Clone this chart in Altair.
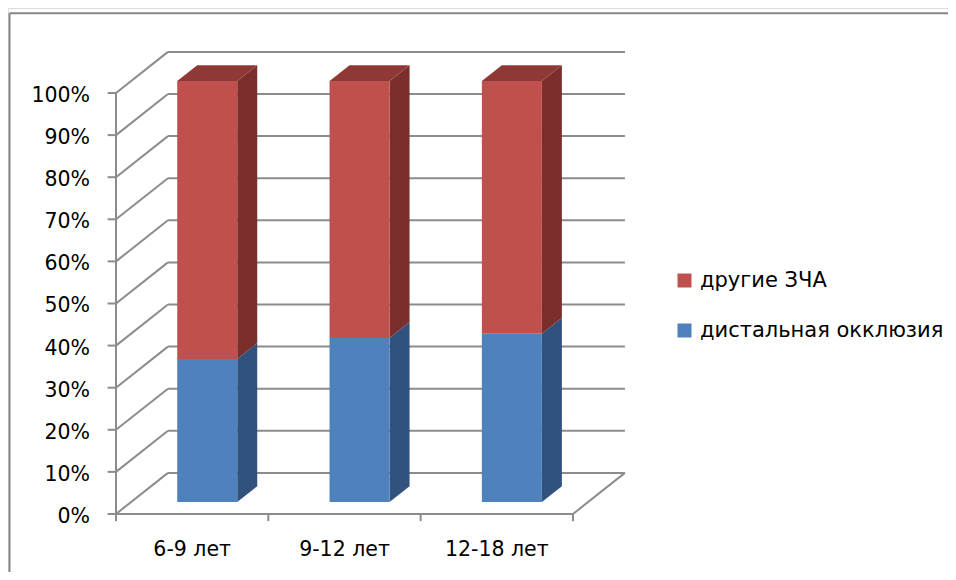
import altair as alt
import pandas as pd

# ---- data ----
categories = ["6-9 лет", "9-12 лет", "12-18 лет"]
distal = [34, 39, 40]          # дистальная окклюзия, %
other = [66, 61, 60]           # другие ЗЧА, %
tick_values = list(range(0, 101, 10))
tick_labels = [f"{v}%" for v in tick_values]
series_names = ["другие ЗЧА", "дистальная окклюзия"]

# ---- 3D projection settings (styles, in axis units) ----
DX = 0.341      # horizontal shift of the back wall (category units)
DY = 9.76       # vertical shift of the back wall (percent units)
dF, dB = 0.29, 0.675   # bar front / back depth (fraction of floor depth)
HW = 0.197      # half bar width
FONT = "DejaVu Sans"
FS = 20.5

front_col = {"другие ЗЧА": "#C0504D", "дистальная окклюзия": "#4F81BD"}
side_col = {"другие ЗЧА": "#7B2F2D", "дистальная окклюзия": "#31527C"}
top_col = "#8F3936"
grid_col = "#8C8C8C"

ncat = len(categories)
X = alt.Scale(domain=[-0.709, 5.462], nice=False, zero=False)
Y = alt.Scale(domain=[-13.78, 120.19], nice=False, zero=False)

# ---- build geometry tables from the data ----
rects, areas = [], []
for i, cat in enumerate(categories):
    L = i + 0.5 - HW + dF * DX
    R = i + 0.5 + HW + dF * DX
    ddx = (dB - dF) * DX
    ddy = (dB - dF) * DY
    segs = [("дистальная окклюзия", 0, distal[i]),
            ("другие ЗЧА", distal[i], distal[i] + other[i])]
    for name, lo, hi in segs:
        rects.append(dict(series=name, x=L, x2=R, y=lo + dF * DY, y2=hi + dF * DY))
        fid = f"side-{i}-{name}"
        areas.append(dict(face=fid, fill=side_col[name], x=R, lo=lo + dF * DY, hi=hi + dF * DY))
        areas.append(dict(face=fid, fill=side_col[name], x=R + ddx, lo=lo + dB * DY, hi=hi + dB * DY))
    Yt = distal[i] + other[i] + dF * DY
    fid = f"top-{i}"
    for xx, lo, hi in [(L, Yt, Yt), (L + ddx, Yt, Yt + ddy), (R, Yt, Yt + ddy), (R + ddx, Yt + ddy, Yt + ddy)]:
        areas.append(dict(face=fid, fill=top_col, x=xx, lo=lo, hi=hi))

rect_df = pd.DataFrame(rects)
area_df = pd.DataFrame(areas)

lines = []
for v in tick_values:
    lines.append(dict(x=DX, x2=ncat + DX, y=v + DY, y2=v + DY))      # back wall grid
    lines.append(dict(x=0, x2=DX, y=v, y2=v + DY))                   # side wall grid
    lines.append(dict(x=-0.055, x2=0, y=v, y2=v))                    # y ticks
lines.append(dict(x=0, x2=0, y=0, y2=100))                           # y axis
lines.append(dict(x=0, x2=ncat, y=0, y2=0))                          # floor front
lines.append(dict(x=ncat, x2=ncat + DX, y=0, y2=DY))                 # floor right
for i in range(ncat + 1):
    lines.append(dict(x=i, x2=i, y=0, y2=-1.7))                      # x ticks
line_df = pd.DataFrame(lines)

ylab_df = pd.DataFrame(dict(v=tick_values, label=tick_labels))
xlab_df = pd.DataFrame(dict(c=[i + 0.5 for i in range(ncat)], label=categories))

grid = alt.Chart(line_df).mark_rule(color=grid_col, strokeWidth=2).encode(
    x=alt.X("x:Q", scale=X, axis=None), x2="x2:Q",
    y=alt.Y("y:Q", scale=Y, axis=None), y2="y2:Q")

fronts = alt.Chart(rect_df).mark_rect().encode(
    x=alt.X("x:Q", scale=X, axis=None), x2="x2:Q",
    y=alt.Y("y:Q", scale=Y, axis=None), y2="y2:Q",
    color=alt.Color("series:N",
                    scale=alt.Scale(domain=series_names,
                                    range=[front_col[s] for s in series_names]),
                    sort=series_names,
                    legend=alt.Legend(title=None, orient="none", legendX=666, legendY=262,
                                      symbolType="square", symbolSize=196,
                                      symbolStrokeWidth=0, labelFont=FONT,
                                      labelFontSize=21, labelColor="#000000",
                                      labelOffset=5, rowPadding=28, padding=0,
                                      labelLimit=400)))

faces = alt.Chart(area_df).mark_area(orient="vertical", opacity=1).encode(
    x=alt.X("x:Q", scale=X, axis=None),
    y=alt.Y("lo:Q", scale=Y, axis=None), y2="hi:Q",
    fill=alt.Fill("fill:N", scale=None),
    detail="face:N")

ylabels = alt.Chart(ylab_df).transform_calculate(xx="0").mark_text(
    align="right", baseline="middle", font=FONT, fontSize=FS, color="#000000",
    dx=-26, dy=3).encode(
    x=alt.X("xx:Q", scale=X, axis=None), y=alt.Y("v:Q", scale=Y, axis=None), text="label:N")

xlabels = alt.Chart(xlab_df).transform_calculate(yy="0").mark_text(
    align="center", baseline="alphabetic", font=FONT, fontSize=FS, color="#000000",
    dy=42).encode(
    x=alt.X("c:Q", scale=X, axis=None), y=alt.Y("yy:Q", scale=Y, axis=None), text="label:N")

frame_top = alt.Chart(pd.DataFrame({"a": [0]})).mark_rule(color="#868686", strokeWidth=2).encode(
    x=alt.value(1.5), x2=alt.value(940), y=alt.value(5.3))
frame_left = alt.Chart(pd.DataFrame({"a": [0]})).mark_rule(color="#868686", strokeWidth=2).encode(
    x=alt.value(1.5), y=alt.value(5.3), y2=alt.value(564))

chart = alt.layer(frame_top, frame_left, grid, faces, fronts, ylabels, xlabels).properties(
    width=940, height=564, autosize=alt.AutoSizeParams(type="none"), padding=0
).configure_view(stroke=None).configure(background="white")

chart.save("out.html", embed_options={"renderer": "svg", "actions": False})
